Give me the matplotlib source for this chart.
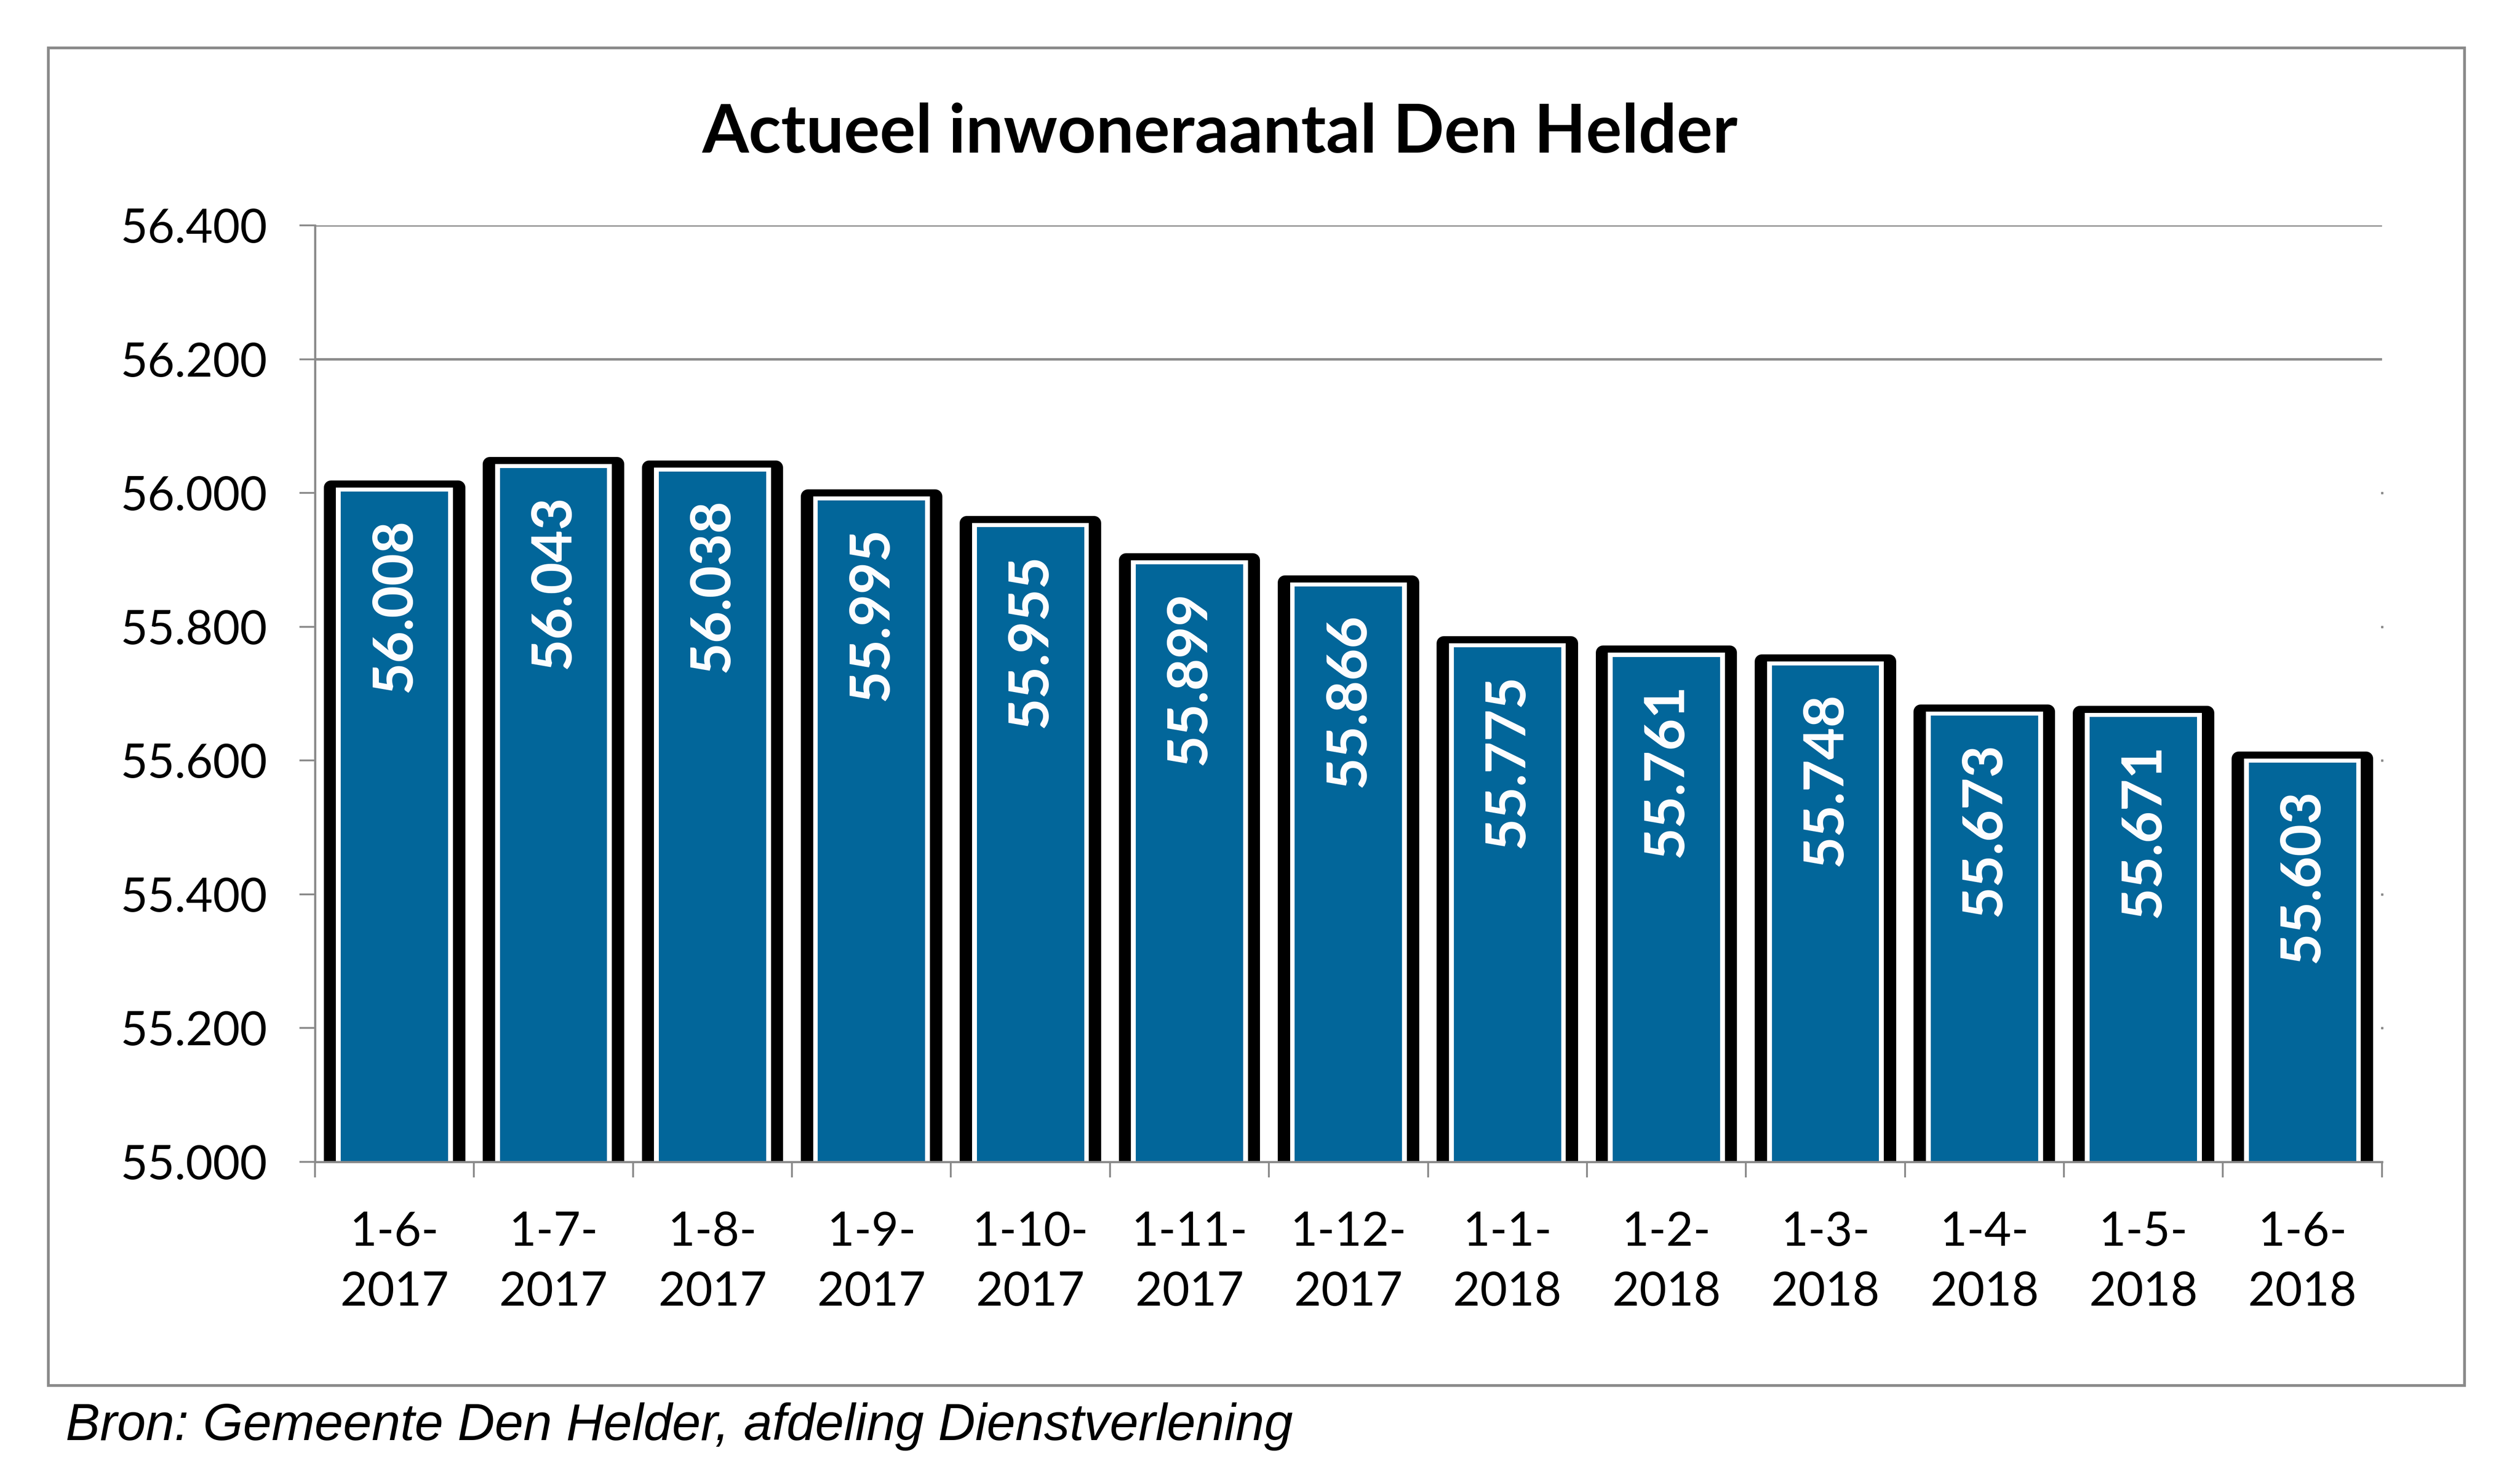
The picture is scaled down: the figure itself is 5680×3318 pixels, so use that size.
import numpy as np
import matplotlib.pyplot as plt
from matplotlib.patches import Rectangle

dates = ['1-6-\n2017', '1-7-\n2017', '1-8-\n2017', '1-9-\n2017', '1-10-\n2017',
         '1-11-\n2017', '1-12-\n2017', '1-1-\n2018', '1-2-\n2018', '1-3-\n2018',
         '1-4-\n2018', '1-5-\n2018', '1-6-\n2018']
inwoners = [56008, 56043, 56038, 55995, 55955, 55899, 55866,
            55775, 55761, 55748, 55673, 55671, 55603]
yticks = [55000, 55200, 55400, 55600, 55800, 56000, 56200, 56400]

BLUE = '#02669a'
GRAY = '#8a8a8a'
BASE = 55000


def nl_fmt(v):
    return f"{v:,.0f}".replace(',', '.')


fig = plt.figure(figsize=(56.8, 33.18), dpi=100)
ax = fig.add_axes([0.125, 0.2107, 0.8202, 0.6362])

x = np.arange(len(inwoners))
h = np.array(inwoners) - BASE

# black outline with rounded corners, then white rim, then blue fill
ax.bar(x, h, bottom=BASE, width=0.80, color='black', edgecolor='black',
       linewidth=23, joinstyle='round', zorder=3)
ax.bar(x, h, bottom=BASE, width=0.735, color='white', linewidth=0, zorder=4)
ax.bar(x, h - 6, bottom=BASE, width=0.675, color=BLUE, linewidth=0, zorder=5)

for xi, v in zip(x, inwoners):
    ax.annotate(nl_fmt(v), (xi, v), xytext=(0, -50), textcoords='offset points',
                rotation=90, ha='center', va='top', color='white',
                fontsize=90, fontweight='bold', family='Lato', zorder=6)

ax.set_xlim(-0.5, len(inwoners) - 0.5)
ax.set_ylim(BASE, 56400)
ax.set_yticks(yticks)
ax.set_yticklabels([nl_fmt(t) for t in yticks], family='Lato', fontsize=76)
ax.tick_params(axis='y', length=25, width=3, color=GRAY, pad=53)

ax.set_xticks(x)
ax.set_xticklabels(dates, family='Lato', fontsize=76, linespacing=1.5)
ax.set_xticks(np.arange(len(inwoners) + 1) - 0.5, minor=True)
ax.tick_params(axis='x', which='major', length=0, pad=80)
ax.tick_params(axis='x', which='minor', length=25, width=3, color=GRAY)

# only the two top gridlines are visible, the rest just leave a dot at the right edge
for t in yticks[1:]:
    if t >= 56200:
        ax.axhline(t, color=GRAY, linewidth=4, zorder=1)
    else:
        ax.plot([len(inwoners) - 0.5], [t], marker='s', markersize=3,
                color=GRAY, clip_on=False, zorder=1)

for s in ['top', 'right']:
    ax.spines[s].set_visible(False)
for s in ['left', 'bottom']:
    ax.spines[s].set_color(GRAY)
    ax.spines[s].set_linewidth(3.5)
ax.spines['bottom'].set_zorder(7)

fig.text(0.4842, 0.8963, 'Actueel inwoneraantal Den Helder', ha='center',
         va='baseline', fontsize=109, fontweight='bold', family='Lato')

fig.patches.append(Rectangle((109 / 5680, 1 - 3123 / 3318), (5555 - 109) / 5680,
                             (3123 - 108) / 3318, transform=fig.transFigure,
                             fill=False, edgecolor=GRAY, linewidth=4.5))

fig.text(0.026, 0.0217, 'Bron: Gemeente Den Helder, afdeling Dienstverlening',
         ha='left', va='baseline', fontsize=83.5, style='italic',
         family='Liberation Sans')

fig.savefig('out.png', dpi=100, facecolor='white')
